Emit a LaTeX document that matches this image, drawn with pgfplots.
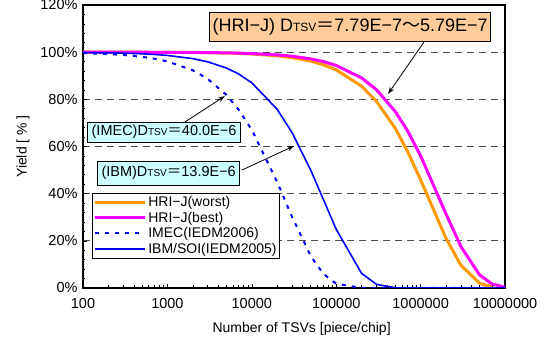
\documentclass[border=0pt]{standalone}
\usepackage{fontspec}
\setmainfont{Liberation Sans}
\newfontfamily\jp{Noto Sans CJK JP}
\usepackage{pgfplots}
\pgfplotsset{compat=1.18}
\usetikzlibrary{arrows.meta}
\definecolor{hriw}{HTML}{FF9900}
\definecolor{hrib}{HTML}{FF00FF}
\definecolor{bl}{HTML}{0000FF}
\definecolor{boxo}{HTML}{FFCC99}
\definecolor{boxc}{HTML}{CCFFFF}
\begin{document}
\begin{tikzpicture}
\useasboundingbox (-83pt,-57pt) rectangle (468pt,288pt);
\begin{axis}[
  at={(0pt,0pt)}, anchor=south west,
  scale only axis, width=422pt, height=283pt,
  xmode=log, xmin=100, xmax=1e7, ymin=0, ymax=120,
  xtick={100,1000,10000,100000,1000000,10000000},
  xticklabels={100,1000,10000,100000,1000000,10000000},
  ytick={0,20,40,60,80,100,120},
  yticklabels={0\%,20\%,40\%,60\%,80\%,100\%,120\%},
  minor y tick num=4,
  tick pos=left,
  tick align=inside,
  major tick length=4pt, minor tick length=2.5pt,
  every tick/.style={black, line width=0.6pt},
  axis line style={line width=1.8pt},
  ymajorgrids,
  grid style={dash pattern=on 7pt off 5pt, line width=0.8pt, color=black!70},
  ticklabel style={font=\fontsize{14.5}{16}\selectfont},
  xticklabel style={yshift=-7pt},
  yticklabel style={xshift=-2pt},
  /pgf/number format/assume math mode=true,
  xlabel={Number of TSVs [piece/chip]},
  ylabel={Yield [ \% ]},
  label style={font=\fontsize{14}{15}\selectfont},
  xlabel style={at={(axis description cs:0.518,-0.145)}, anchor=center},
  ylabel style={at={(axis description cs:-0.142,0.5)}, anchor=center},
  legend cell align=left,
  legend style={at={(axis description cs:0.0213,0.3357)}, anchor=north west,
    draw=black, line width=0.6pt, font=\fontsize{14}{15}\selectfont,
    inner sep=1pt, row sep=0pt, fill=white},
  legend image code/.code={\draw[#1] (0pt,0pt) -- (50pt,0pt);},
]
\addplot[hriw, line width=3pt] coordinates {
(100,99.99) (200,99.98) (300,99.98) (500,99.96) (700,99.95) (1000,99.92)
(2000,99.84) (3000,99.77) (5000,99.61) (7000,99.46) (10000,99.22)
(20000,98.45) (30000,97.69) (50000,96.18) (70000,94.70) (100000,92.51)
(200000,85.58) (300000,79.16) (500000,67.74) (700000,57.97) (1000000,45.89)
(2000000,21.06) (3000000,9.66) (5000000,2.03) (7000000,0.43)};
\addlegendentry{HRI−J(worst)}
\addplot[hrib, line width=3pt] coordinates {
(100,99.99) (200,99.99) (300,99.98) (500,99.97) (700,99.96) (1000,99.94)
(2000,99.88) (3000,99.83) (5000,99.71) (7000,99.60) (10000,99.42)
(20000,98.85) (30000,98.28) (50000,97.15) (70000,96.03) (100000,94.37)
(200000,89.08) (300000,84.07) (500000,74.87) (700000,66.68) (1000000,56.04)
(2000000,31.41) (3000000,17.60) (5000000,5.53) (7000000,1.74) (10000000,0.31)};
\addlegendentry{HRI−J(best)}
\addplot[bl, line width=2pt, dash pattern=on 4pt off 6pt] coordinates {
(100,99.60) (200,99.20) (300,98.81) (500,98.02) (700,97.24) (1000,96.08)
(2000,92.31) (3000,88.69) (5000,81.87) (7000,75.58) (10000,67.03)
(20000,44.93) (30000,30.12) (50000,13.53) (70000,6.08) (100000,1.83)
(200000,0.03) (300000,0) (500000,0) (1000000,0) (10000000,0)};
\addlegendentry{IMEC(IEDM2006)}
\addplot[bl, line width=1.6pt] coordinates {
(100,99.86) (200,99.72) (300,99.58) (500,99.31) (700,99.03) (1000,98.62)
(2000,97.26) (3000,95.91) (5000,93.29) (7000,90.73) (10000,87.02)
(20000,75.73) (30000,65.90) (50000,49.90) (70000,37.79) (100000,24.91)
(200000,6.20) (300000,1.55) (500000,0.10) (700000,0.01) (1000000,0)
(10000000,0)};
\addlegendentry{IBM/SOI(IEDM2005)}
% annotations
\node[draw=black, line width=0.8pt, fill=boxo, inner xsep=3pt, minimum height=29pt,
  font=\fontsize{18}{20}\selectfont] at (rel axis cs:0.633,0.922)
  {(HRI−J) D{\fontsize{12}{12}\selectfont TSV}{\jp ＝}7.79E−7{\jp ～}5.79E−7};
\draw[line width=0.8pt, -{Stealth[length=7pt,width=5pt]}] (rel axis cs:0.808,0.869) -- (rel axis cs:0.723,0.686);
\node[draw=black, line width=0.8pt, fill=boxc, inner xsep=4pt, inner ysep=0pt, minimum height=20pt,
  font=\fontsize{14.5}{16}\selectfont] at (rel axis cs:0.192,0.551)
  {(IMEC)D{\fontsize{10}{10}\selectfont TSV}{\jp ＝}40.0E−6};
\draw[line width=0.8pt, -{Stealth[length=7pt,width=5pt]}] (rel axis cs:0.242,0.587) -- (rel axis cs:0.336,0.678);
\node[draw=black, line width=0.8pt, fill=boxc, inner xsep=4pt, inner ysep=0pt, minimum height=24pt,
  font=\fontsize{14.5}{16}\selectfont] at (rel axis cs:0.203,0.406)
  {(IBM)D{\fontsize{10}{10}\selectfont TSV}{\jp ＝}13.9E−6};
\draw[line width=0.8pt, -{Stealth[length=7pt,width=5pt]}] (rel axis cs:0.377,0.417) -- (rel axis cs:0.5,0.502);
\end{axis}
\end{tikzpicture}
\end{document}
